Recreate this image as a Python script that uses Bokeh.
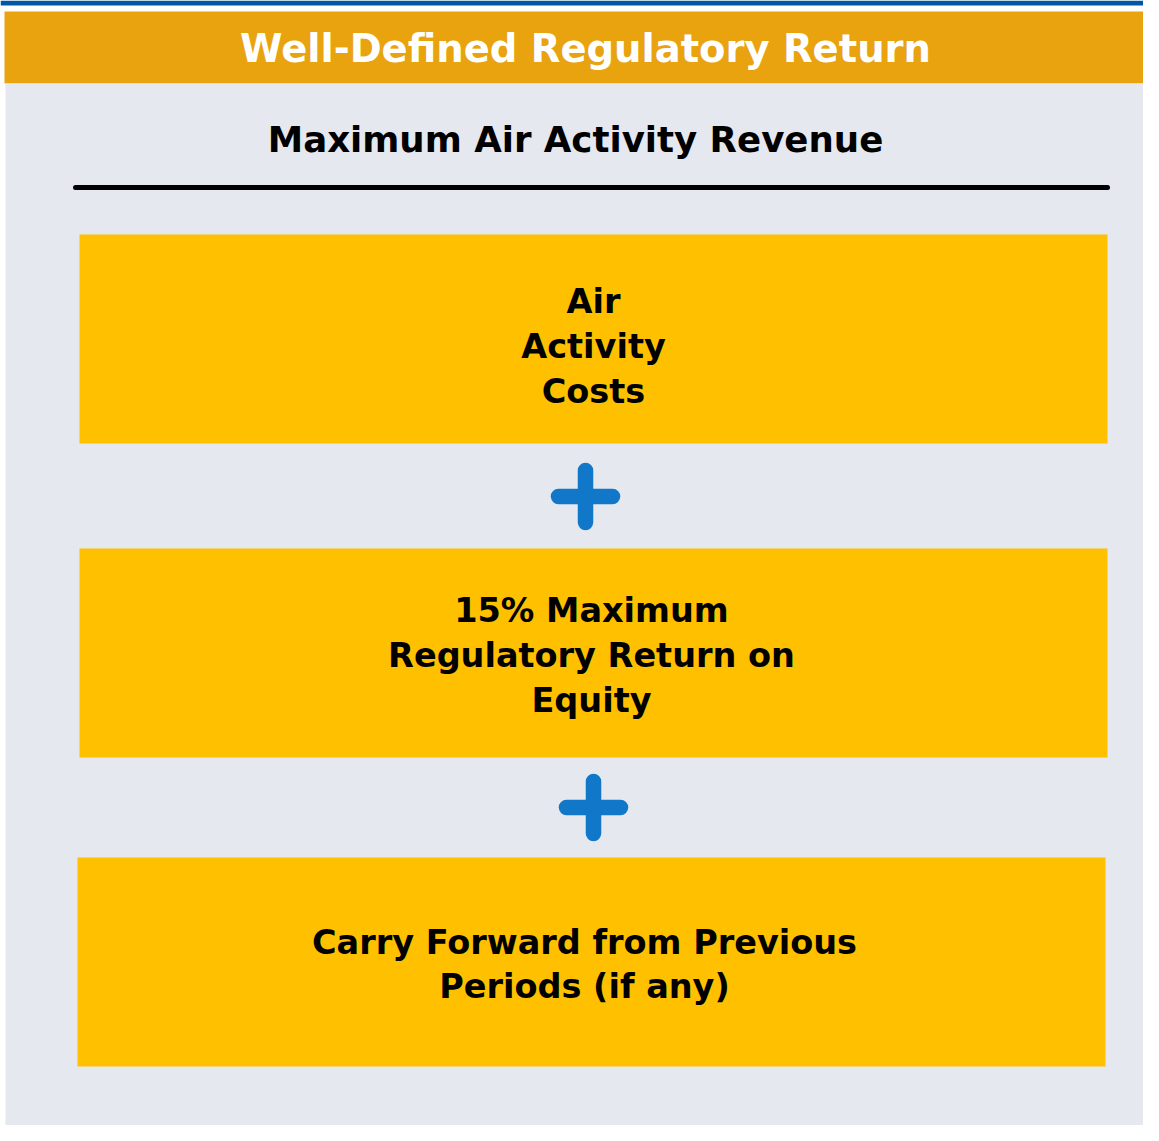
from bokeh.plotting import figure
from bokeh.models import Range1d
from bokeh.core.properties import value
from bokeh.embed import file_html
from bokeh.resources import INLINE

# ---- content ----
header_title = "Well-Defined Regulatory Return"
subtitle = "Maximum Air Activity Revenue"
box_labels = [
    "Air\nActivity\nCosts",
    "15% Maximum\nRegulatory Return on\nEquity",
    "Carry Forward from Previous\nPeriods (if any)",
]

# ---- layout (reference pixel coordinates) ----
box_left = [79, 79, 77]
box_right = [1107, 1107, 1105]
box_top = [234, 548, 857]
box_bottom = [443, 757, 1066]
text_cx = [593, 591, 584]
text_cy = [346, 655, 964]
plus_cx = [585, 593]
plus_cy = [496, 807]
plus_half = 27

FONT = value("DejaVu Sans")
W, H = 1143, 1125
p = figure(width=W, height=H, output_backend="svg", toolbar_location=None,
           x_range=Range1d(0, W), y_range=Range1d(H, 0),
           min_border=0, border_fill_color="white", background_fill_color="white",
           outline_line_color=None)
p.axis.visible = False
p.grid.visible = False

# top blue rule
p.quad(left=[0], right=[1156], top=[0], bottom=[5], fill_color="#0057A5", line_color=None)
# orange header
p.quad(left=[4], right=[1143], top=[11], bottom=[83], fill_color="#E8A30F", line_color=None)
# grey panel
p.quad(left=[5], right=[1144], top=[83], bottom=[1141], fill_color="#E5E8EE", line_color=None)

p.text(x=[585], y=[48], text=[header_title], text_color="white", text_font=FONT,
       text_font_style="bold", text_font_size="38.5px", text_align="center", text_baseline="middle")
p.text(x=[575], y=[139], text=[subtitle], text_color="black", text_font=FONT,
       text_font_style="bold", text_font_size="35.6px", text_align="center", text_baseline="middle")
p.segment(x0=[75], y0=[187], x1=[1107], y1=[187], line_color="black", line_width=5, line_cap="round")

# boxes
p.quad(left=box_left, right=box_right, top=box_top, bottom=box_bottom,
       fill_color="#FFC000", line_color=None)
p.text(x=text_cx, y=text_cy, text=box_labels, text_color="black", text_font=FONT,
       text_font_style="bold", text_font_size="33.5px", text_align="center", text_baseline="middle",
       text_line_height=1.15)

# plus signs
hx0 = [c - plus_half for c in plus_cx]
hx1 = [c + plus_half for c in plus_cx]
vy0 = [c - 26 for c in plus_cy]
vy1 = [c + 26 for c in plus_cy]
p.segment(x0=hx0, y0=plus_cy, x1=hx1, y1=plus_cy, line_color="#1177C8", line_width=15.5, line_cap="round")
p.segment(x0=plus_cx, y0=vy0, x1=plus_cx, y1=vy1, line_color="#1177C8", line_width=15.5, line_cap="round")

open("out.html", "w").write(file_html(p, INLINE))
